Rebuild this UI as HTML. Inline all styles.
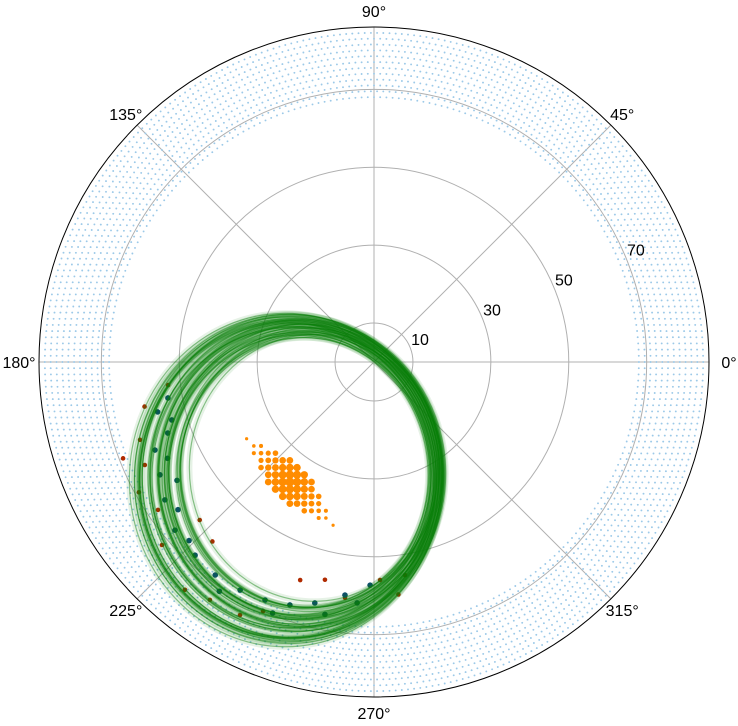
<!DOCTYPE html>
<html><head><meta charset="utf-8"><style>
html,body{margin:0;padding:0;background:#fff;}
svg{display:block;font-family:"Liberation Sans","DejaVu Sans",sans-serif;}
</style></head><body>
<svg id="chart" width="738" height="726" viewBox="0 0 738 726">
<g id="grid"></g>
<g id="blue"></g>
<g id="reds"></g>
<g id="teals"></g>
<g id="loops"></g>
<g id="orange"></g>
<g id="labels"></g>
</svg>
<script>
const rTicks=[10,30,50,70];
const angleTicks=[0,45,90,135,180,225,270,315];
const blueRings=[68,69.5,71,72.5,74,75.5,77,78.5,80,81.5,83,84.5];
const loopRad=[32,32.5,33,33.5,34,34.5,35,35.5,36,36.5,37,37.5,38,38.5,39,39.5,40,32.3,33.2,34.1,35.3,36.2,37.3,38.1,39.2,33.7,34.7,35.7,36.7,37.7,38.7,32.8,34.4,36,37,38.4];
const loopCx=[-15.4,-18.3,-16.7,-19.6,-16.5,-19.4,-18.8,-18.2,-21.4,-18.8,-21.0,-20.0,-22.4,-21.0,-22.5,-22.0,-22.8,-17.6,-16.4,-18.6,-17.5,-20.8,-20.3,-22.1,-21.4,-19.0,-17.9,-19.8,-18.6,-22.4,-20.8,-17.0,-20.0,-19.2,-18.6,-21.8];
const loopCy=[-27.2,-28.5,-27.7,-29.0,-27.7,-28.9,-28.7,-28.3,-29.7,-28.8,-29.7,-29.0,-30.3,-29.5,-30.2,-30.0,-30.3,-28.3,-27.5,-28.7,-28.0,-29.6,-29.2,-30.1,-29.7,-28.9,-28.2,-29.1,-28.6,-30.3,-29.4,-28.0,-29.3,-28.8,-28.6,-30.0];
const tealTheta=[189.9,196,201.9,207.8,213.4,220.2,227.2,233.3,239.6,245.4,250.9,256.2,262.9,269,193,205,217,224,236,248,259,266,199,211];
const tealR=[53.7,54,60.6,62.1,64.3,66.9,67.6,68.2,67.9,67.2,66,63.7,60.3,57.3,57,58.5,63,66,71,69.5,66,62,56,59];
const redTheta=[198.4,204.2,214.4,220.8,230.3,235.4,242.1,251.3,257.3,271.6,278.3,186.4,222.2,191,209,228,246,263,276,201];
const redR=[63.3,64.5,67.2,71.9,76,74.2,73.5,59.1,57.3,56,55.3,53.2,60.4,60,69,62,70,61,60,69];
const orangeM=[-6,-5,-4,-3,-2,-1,0,1,2,3,4,5,6, -4,-3,-2,-1,0,1,2,3,4,5, -5,-4,-3,-2,-1,0,1,2,3,4, -2,-1,0,1,2,3,4, -4,-3,-2,-1,0,1,2, 0,1,2,3, -3,-2,-1,0];
const orangeN=[6,5,4,3,2,1,0,-1,-2,-3,-4,-5,-6, 5,4,3,2,1,0,-1,-2,-3,-4, 4,3,2,1,0,-1,-2,-3,-4,-5, 4,3,2,1,0,-1,-2, 2,1,0,-1,-2,-3,-4, 3,2,1,0, 0,-1,-2,-3];
const orangeCx=-21.6, orangeCy=-30.8, orangeStep=1.85;

const NS="http://www.w3.org/2000/svg";
const CX=374, CY=362, RMAX=86, RPX=335;
function rs(r){return r/RMAX*RPX;}
function px(theta,r){const a=theta*Math.PI/180;return [CX+rs(r)*Math.cos(a),CY-rs(r)*Math.sin(a)];}
function dx(x){return CX+rs(x);} function dy(y){return CY-rs(y);}
function mk(tag,attrs,parent){const e=document.createElementNS(NS,tag);for(const k in attrs)e.setAttribute(k,attrs[k]);parent.appendChild(e);return e;}

const grid=document.getElementById('grid');
rTicks.forEach(r=>{const c=mk('circle',{cx:CX,cy:CY,r:rs(r),fill:'none',stroke:'#b0b0b0','stroke-width':1},grid);

});
angleTicks.forEach(t=>{const p=px(t,RMAX);const l=mk('line',{x1:CX,y1:CY,x2:p[0],y2:p[1],stroke:'#b0b0b0','stroke-width':1},grid);

});

const blue=document.getElementById('blue');
blueRings.forEach(r=>{const n=Math.round(2*Math.PI*rs(r)/6.2);for(let i=0;i<n;i++){const p=px(i*360/n,r);
const c=mk('circle',{cx:p[0].toFixed(1),cy:p[1].toFixed(1),r:0.95,fill:'#9cc9e8'},blue);

}});

const reds=document.getElementById('reds');
redTheta.forEach((t,i)=>{const p=px(t,redR[i]);const c=mk('circle',{cx:p[0],cy:p[1],r:2.3,fill:'#b02a00'},reds);

});
const teals=document.getElementById('teals');
tealTheta.forEach((t,i)=>{const p=px(t,tealR[i]);const c=mk('circle',{cx:p[0],cy:p[1],r:2.8,fill:'#0d4f6a'},teals);

});

const loops=document.getElementById('loops');
for(let k=0;k<2;k++){
loopCx.forEach((x,i)=>{const e=mk('ellipse',{cx:dx(x),cy:dy(loopCy[i]),rx:rs(loopRad[i]),ry:rs(loopRad[i])*1.07,fill:'none',stroke:'#0a800a','stroke-width':k?6:1.2,'stroke-opacity':k?0.1:0.45},loops);

});}

const orange=document.getElementById('orange');
orangeM.forEach((m,i)=>{const n=orangeN[i];const d=Math.hypot(m,n);const sz=Math.max(1.6,4.6-d*0.4);
const c=mk('circle',{cx:dx(orangeCx+m*orangeStep),cy:dy(orangeCy+n*orangeStep),r:sz,fill:'#ff8c00'},orange);

});

const outer=mk('circle',{cx:CX,cy:CY,r:RPX,fill:'none',stroke:'#000','stroke-width':1},grid);



const labels=document.getElementById('labels');
angleTicks.forEach(t=>{const a=t*Math.PI/180;const R=RPX+16+(Math.abs(Math.cos(a))>0.9?4:0);const x=CX+R*Math.cos(a),y=CY-R*Math.sin(a);
const tx=mk('text',{x:x,y:y+6,'font-size':16,'text-anchor':'middle',fill:'#000'},labels);
tx.textContent=t+'°';

});
rTicks.forEach(r=>{const p=px(22.5,r);const tx=mk('text',{x:p[0]+10,y:p[1]-2,'font-size':16,'text-anchor':'middle',fill:'#000'},labels);
tx.textContent=r;

});
</script>
</body></html>
